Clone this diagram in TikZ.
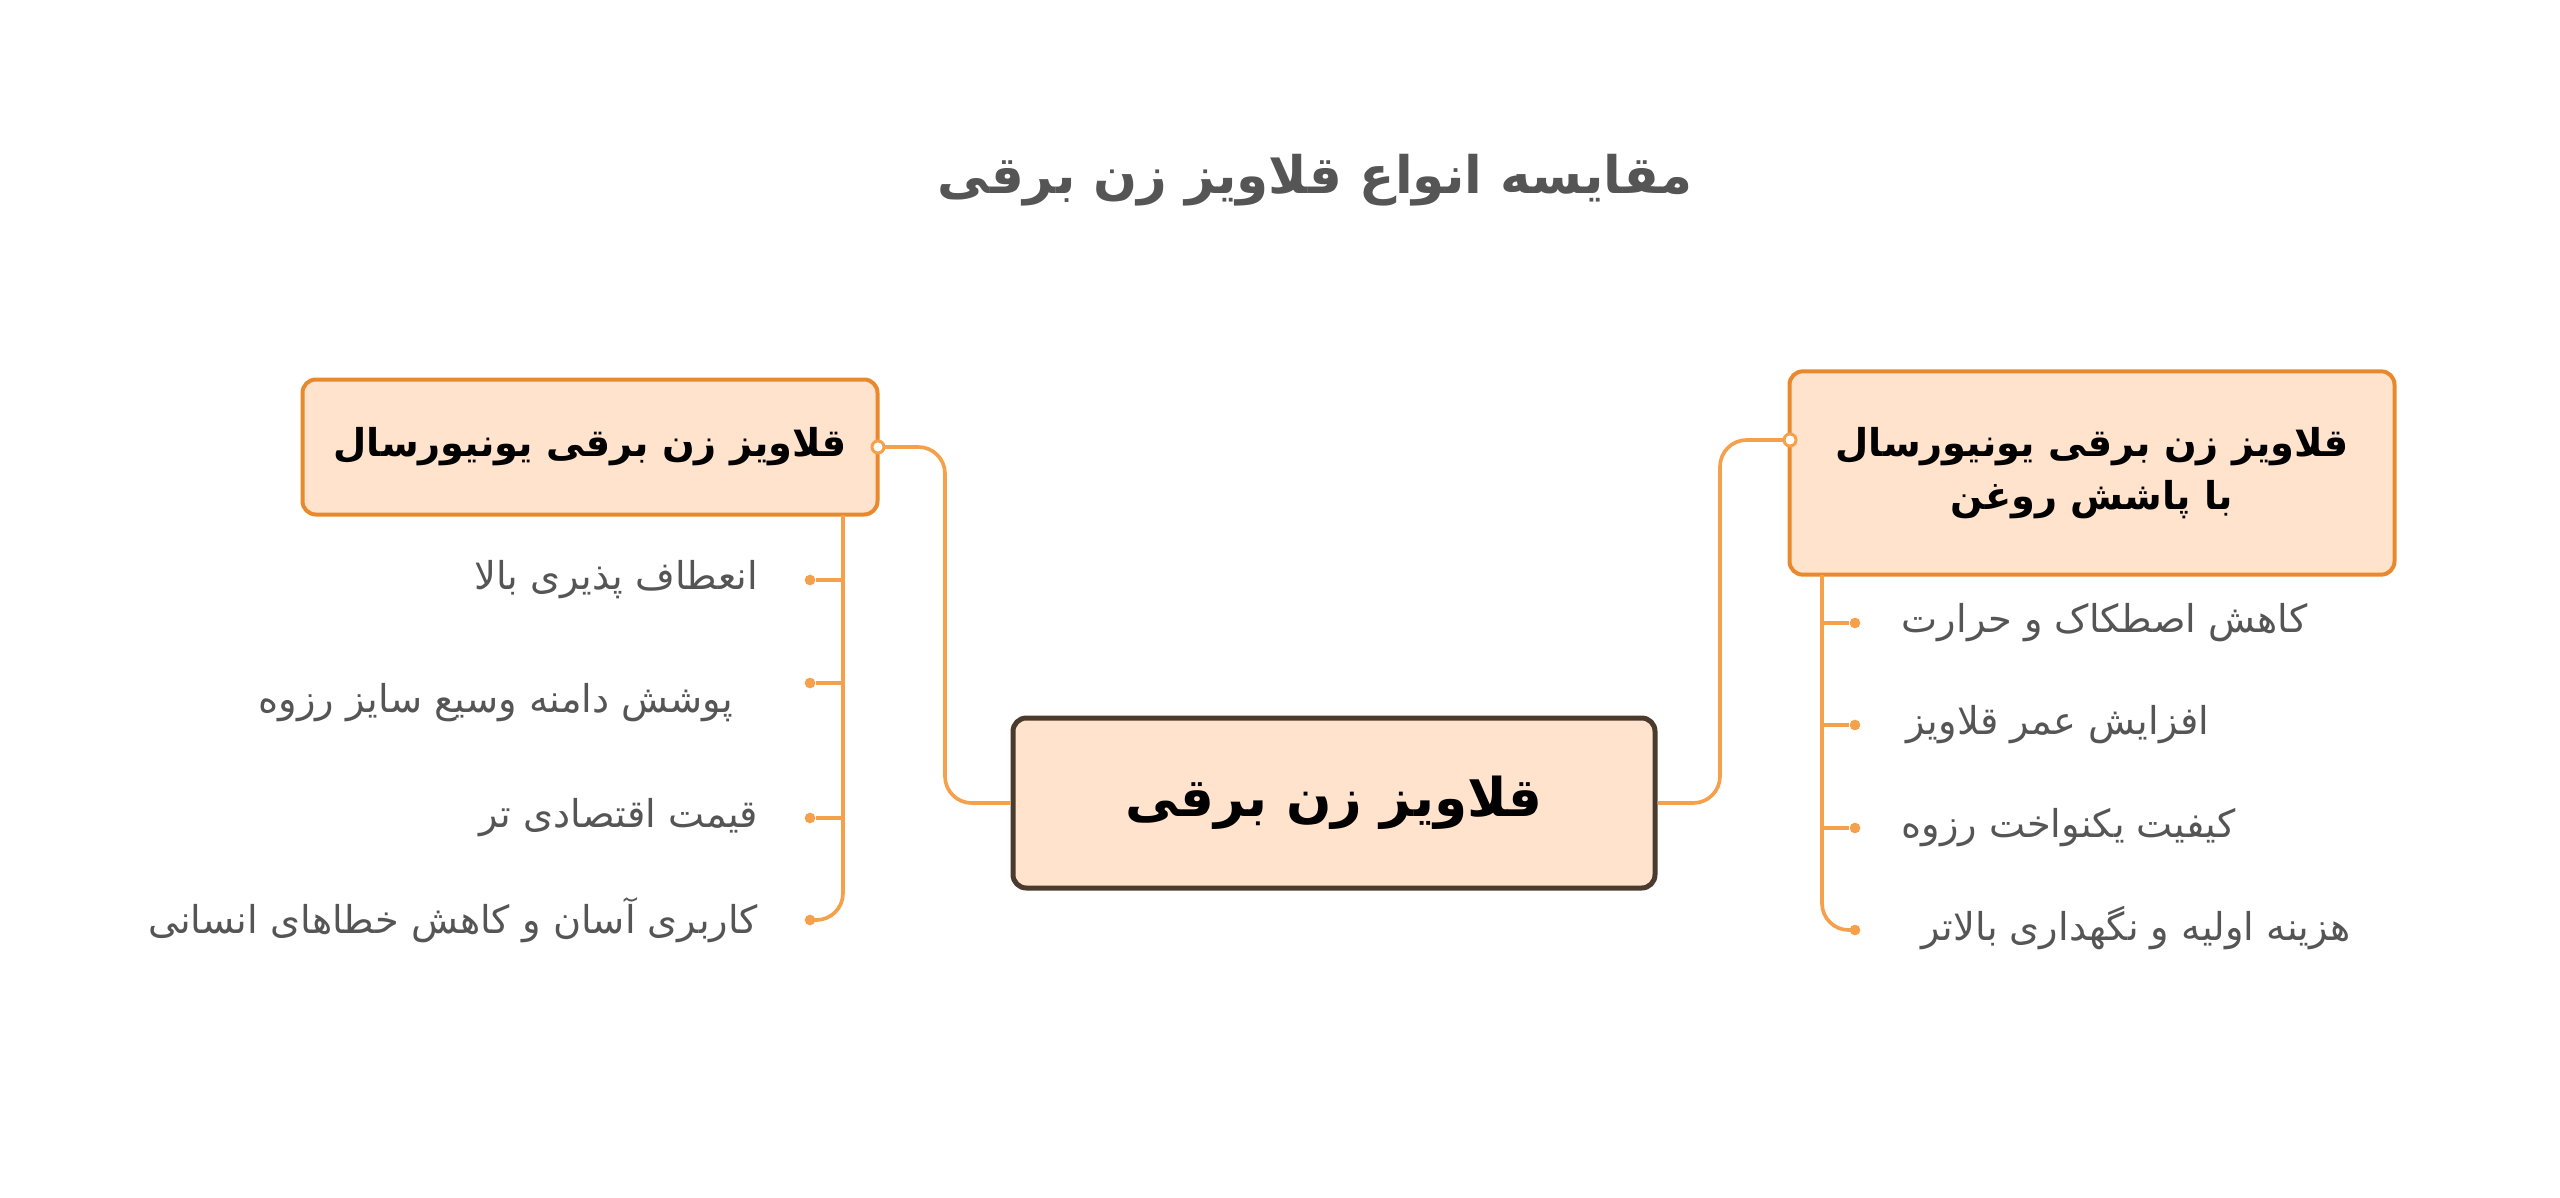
\documentclass[tikz,border=0pt]{standalone}
\usepackage{fontspec}
\TeXXeTstate=1
\newfontfamily\arabicfont[Script=Arabic]{DejaVu Sans}
\newcommand{\fa}[1]{\beginR #1\endR}
\definecolor{boxfill}{HTML}{FFE3CC}
\definecolor{orng}{HTML}{E8892E}
\definecolor{lorng}{HTML}{F5A04A}
\definecolor{dbrown}{HTML}{4A3B2E}
\definecolor{txt}{HTML}{555555}
\begin{document}
\begin{tikzpicture}[x=0.3pt,y=-0.3pt,
  mainbox/.style={draw=dbrown,line width=1.5pt,fill=boxfill,rounded corners=4pt,minimum width=192.6pt,minimum height=51pt,font=\arabicfont\bfseries\fontsize{16}{18}\selectfont},
  subbox/.style={draw=orng,line width=1.2pt,fill=boxfill,rounded corners=4pt,font=\arabicfont\bfseries\fontsize{11.5}{16}\selectfont,align=center},
  conn/.style={draw=lorng,line width=1.1pt,rounded corners=8pt},
  leaf/.style={font=\arabicfont\fontsize{11.5}{13}\selectfont,text=txt},
  dot/.style={circle,fill=lorng,inner sep=0pt,minimum size=3.2pt},
  odot/.style={circle,draw=lorng,fill=white,line width=0.9pt,inner sep=0pt,minimum size=3.6pt}]
\useasboundingbox (0,0) rectangle (2560,1198);
\node[font=\arabicfont\bfseries\fontsize{15.5}{17}\selectfont,text=txt] (title) at (1315,180) {\fa{مقایسه انواع قلاویز زن برقی}};
\node[mainbox] (c) at (1334,803) {\fa{قلاویز زن برقی}};
\node[subbox,minimum width=172.5pt,minimum height=40.5pt] (l) at (590,447) {\fa{قلاویز زن برقی یونیورسال}};
\node[subbox,minimum width=181.5pt,minimum height=61pt] (r) at (2092,473) {\fa{قلاویز زن برقی یونیورسال}\\\fa{با پاشش روغن}};
\coordinate (lc) at (878,447);
\coordinate (rc) at (1790,440);
\draw[conn] (c.west) -- (945,803) -- (945,447) -- (lc);
\draw[conn] (c.east) -- (1720,803) -- (1720,440) -- (rc);
\node[odot] at (lc) {};
\node[odot] at (rc) {};
% left leaves
\coordinate (lt) at (843,515);
\node[dot] (l4) at (810,920) {};
\draw[conn] (lt) -- (843,920) -- (l4.center);
\foreach \y/\n in {580/l1,683/l2,818/l3}{
  \node[dot] (\n) at (810,\y) {};
  \draw[conn] (\n) -- (843,\y);
}
\node[leaf,anchor=east] at (770,580) {\fa{انعطاف پذیری بالا}};
\node[leaf,anchor=east] at (745,703) {\fa{پوشش دامنه وسیع سایز رزوه}};
\node[leaf,anchor=east] at (770,818) {\fa{قیمت اقتصادی تر}};
\node[leaf,anchor=east] at (770,920) {\fa{کاربری آسان و کاهش خطاهای انسانی}};
% right leaves
\coordinate (rt) at (1822,575);
\node[dot] (r4) at (1855,930) {};
\draw[conn] (rt) -- (1822,930) -- (r4.center);
\foreach \y/\n in {623/r1,725/r2,828/r3}{
  \node[dot] (\n) at (1855,\y) {};
  \draw[conn] (\n) -- (1822,\y);
}
\node[leaf,anchor=west] at (1890,623) {\fa{کاهش اصطکاک و حرارت}};
\node[leaf,anchor=west] at (1895,725) {\fa{افزایش عمر قلاویز}};
\node[leaf,anchor=west] at (1890,828) {\fa{کیفیت یکنواخت رزوه}};
\node[leaf,anchor=west] at (1910,928) {\fa{هزینه اولیه و نگهداری بالاتر}};
\end{tikzpicture}
\end{document}
